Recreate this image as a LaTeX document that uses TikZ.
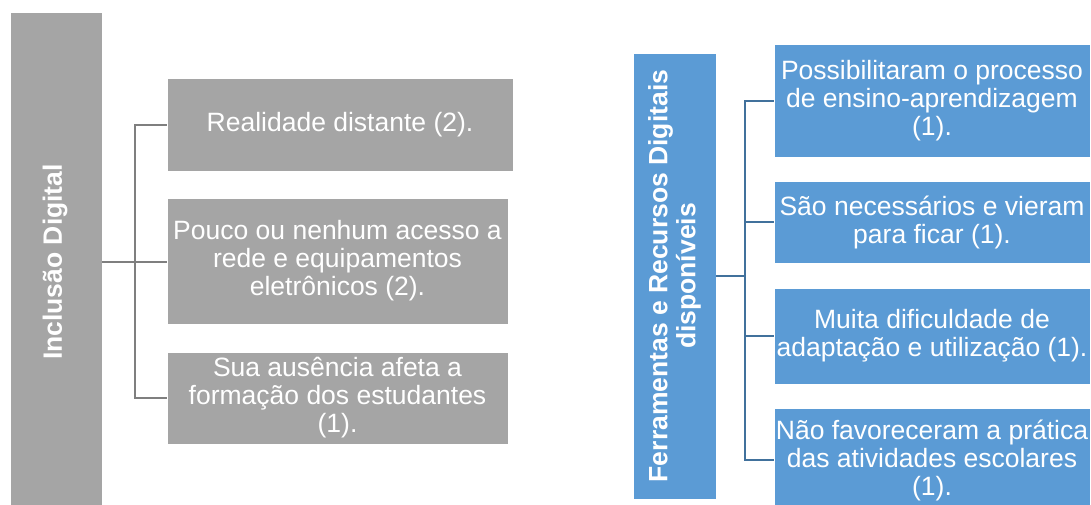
\documentclass[tikz,border=0pt]{standalone}
\usepackage{fontspec}
\setmainfont{Liberation Sans}
\definecolor{boxgray}{HTML}{A5A5A5}
\definecolor{linegray}{HTML}{7F7F7F}
\definecolor{boxblue}{HTML}{5B9BD5}
\definecolor{lineblue}{HTML}{41719C}
\tikzset{
  gbox/.style={rectangle, fill=boxgray, draw=white, line width=0.8pt, inner ysep=0pt, inner xsep=-12pt, align=center, text=white, font=\fontsize{26.5}{28}\selectfont},
  bbox/.style={rectangle, fill=boxblue, draw=white, line width=0.8pt, inner ysep=0pt, inner xsep=-12pt, align=center, text=white, font=\fontsize{26.5}{28}\selectfont},
  barlabel/.style={rotate=90, inner sep=0pt, align=center, text=white, font=\fontsize{26.5}{28}\selectfont\bfseries},
  glink/.style={draw=linegray, line width=2pt},
  blink/.style={draw=lineblue, line width=2pt}
}
\begin{document}
\begin{tikzpicture}[x=1pt,y=-1pt]
\useasboundingbox (0,0) rectangle (1091,504);
% left group
\node[gbox, inner xsep=0pt, minimum width=92pt, minimum height=500pt] (lbar) at (56,262) {};
\node[barlabel] (llab) at (55,262) {Inclusão Digital};
\node[gbox, minimum width=346pt, minimum height=93pt] (g1) at (340,124.5) {Realidade distante (2).};
\node[gbox, minimum width=341pt, minimum height=126pt] (g2) at (337.5,261) {Pouco ou nenhum acesso a\\rede e equipamentos\\eletrônicos (2).};
\node[gbox, minimum width=341pt, minimum height=92pt] (g3) at (337.5,398) {Sua ausência afeta a\\formação dos estudantes\\(1).};
\coordinate (lj) at (135,262);
\draw[glink] (lbar.east) -- (lj);
\draw[glink] (g1.west) -- (g1.west -| lj) -- (g3.west -| lj) -- (g3.west);
\draw[glink] (lj) -- (lj -| g2.west);
% right group
\node[bbox, inner xsep=0pt, minimum width=83pt, minimum height=446pt] (rbar) at (674.5,276) {};
\node[barlabel] (rlab) at (674.5,276) {Ferramentas e Recursos Digitais\\disponíveis};
\node[bbox, minimum width=316pt, minimum height=113pt] (b1) at (932,100.5) {Possibilitaram o processo\\de ensino-aprendizagem\\(1).};
\node[bbox, minimum width=316pt, minimum height=82pt] (b2) at (932,222) {São necessários e vieram\\para ficar (1).};
\node[bbox, minimum width=316pt, minimum height=96pt] (b3) at (932,336) {Muita dificuldade de\\adaptação e utilização (1).};
\node[bbox, minimum width=316pt, minimum height=104pt] (b4) at (932,460) {Não favoreceram a prática\\das atividades escolares\\(1).};
\coordinate (rj) at (745,276);
\draw[blink] (rbar.east) -- (rj);
\draw[blink] (b1.west) -- (b1.west -| rj) -- (b4.west -| rj) -- (b4.west);
\draw[blink] (b2.west -| rj) -- (b2.west);
\draw[blink] (b3.west -| rj) -- (b3.west);
\end{tikzpicture}
\end{document}
